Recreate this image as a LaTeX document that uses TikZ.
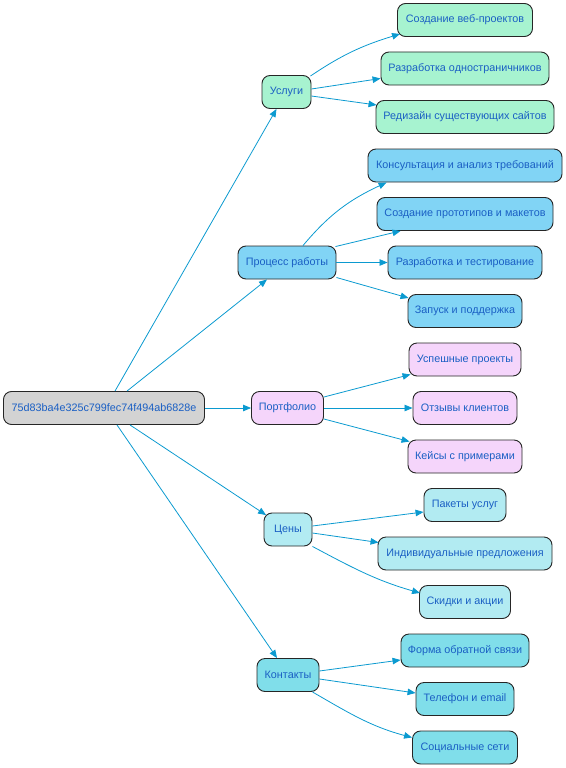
\documentclass[tikz,border=0pt]{standalone}
\usepackage{fontspec}
\setmainfont{Liberation Sans}
\usetikzlibrary{arrows.meta}
\definecolor{txt}{HTML}{1A5FC4}
\definecolor{edge}{HTML}{0B9AD0}
\definecolor{rootc}{HTML}{D3D3D3}
\definecolor{uslc}{HTML}{A7F3D0}
\definecolor{procc}{HTML}{81D4F5}
\definecolor{portc}{HTML}{F5D5FB}
\definecolor{cenc}{HTML}{B2EBF2}
\definecolor{konc}{HTML}{80DEEA}
\tikzset{
  box/.style={draw=black!85, line width=0.9pt, rounded corners=8pt, minimum height=33pt,
    inner sep=0pt, text=txt, font=\fontsize{10.8}{12}\selectfont},
  conn/.style={draw=edge, line width=0.8pt, -{Triangle[length=8pt,width=6.5pt]}},
}
\begin{document}
\begin{tikzpicture}[x=1pt,y=1pt]
\useasboundingbox (0,0) rectangle (565,-768);
% root
\node[box, fill=rootc, minimum width=201pt] (root) at (104,-408) {75d83ba4e325c799fec74f494ab6828e};
% middle
\node[box, fill=uslc, minimum width=49pt] (usl) at (286.5,-92) {Услуги};
\node[box, fill=procc, minimum width=98pt] (proc) at (287,-262.5) {Процесс работы};
\node[box, fill=portc, minimum width=72pt] (port) at (287.5,-408) {Портфолио};
\node[box, fill=cenc, minimum width=48pt] (cen) at (288,-529.5) {Цены};
\node[box, fill=konc, minimum width=62pt] (kon) at (288,-675) {Контакты};
% right
\node[box, fill=uslc, minimum width=135pt] (sozd) at (465,-20) {Создание веб-проектов};
\node[box, fill=uslc, minimum width=168pt] (razr) at (465,-68.5) {Разработка одностраничников};
\node[box, fill=uslc, minimum width=178pt] (rediz) at (465,-117) {Редизайн существующих сайтов};
\node[box, fill=procc, minimum width=194pt] (kons) at (465,-165.5) {Консультация и анализ требований};
\node[box, fill=procc, minimum width=176pt] (proto) at (465,-214) {Создание прототипов и макетов};
\node[box, fill=procc, minimum width=154pt] (test) at (465,-262.5) {Разработка и тестирование};
\node[box, fill=procc, minimum width=114pt] (zap) at (465,-311) {Запуск и поддержка};
\node[box, fill=portc, minimum width=112pt] (usp) at (465,-359.5) {Успешные проекты};
\node[box, fill=portc, minimum width=104pt] (otz) at (465,-408) {Отзывы клиентов};
\node[box, fill=portc, minimum width=114pt] (keis) at (465,-456.5) {Кейсы с примерами};
\node[box, fill=cenc, minimum width=82pt] (pak) at (465,-505) {Пакеты услуг};
\node[box, fill=cenc, minimum width=174pt] (ind) at (465,-553.5) {Индивидуальные предложения};
\node[box, fill=cenc, minimum width=91pt] (skid) at (465,-602) {Скидки и акции};
\node[box, fill=konc, minimum width=128pt] (forma) at (465,-650.5) {Форма обратной связи};
\node[box, fill=konc, minimum width=98pt] (tel) at (465,-699) {Телефон и email};
\node[box, fill=konc, minimum width=105pt] (soc) at (465,-747.5) {Социальные сети};
% root edges
\draw[conn] ([xshift=11pt]root.north) -- ([xshift=-10pt]usl.south);
\draw[conn] ([xshift=23pt]root.north) -- ([xshift=-20pt]proc.south);
\draw[conn] (root.east) -- (port.west);
\draw[conn] ([xshift=26pt]root.south) -- ([shift={(2.5pt,-2.5pt)}]cen.north west);
\draw[conn] ([xshift=13pt]root.south) -- ([xshift=-11pt]kon.north);
% usl
\draw[conn] ([shift={(-1pt,-1pt)}]usl.north east) to[out=34,in=197] ([shift={(3pt,3pt)}]sozd.south west);
\draw[conn] ([yshift=3pt]usl.east) -- ([yshift=-10pt]razr.west);
\draw[conn] ([yshift=-4pt]usl.east) -- ([shift={(1pt,12pt)}]rediz.west);
% proc
\draw[conn] ([xshift=16pt]proc.north) to[out=50,in=205] ([xshift=19pt]kons.south west);
\draw[conn] ([shift={(-1pt,-1pt)}]proc.north east) -- ([xshift=24pt]proto.south west);
\draw[conn] (proc.east) -- (test.west);
\draw[conn] ([yshift=-15pt]proc.east) -- ([shift={(1pt,13pt)}]zap.west);
% port
\draw[conn] ([yshift=11pt]port.east) -- ([shift={(2pt,2pt)}]usp.south west);
\draw[conn] (port.east) -- (otz.west);
\draw[conn] ([yshift=-11pt]port.east) -- ([shift={(2pt,-2pt)}]keis.north west);
% cen
\draw[conn] ([yshift=3.5pt]cen.east) -- ([yshift=-7pt]pak.west);
\draw[conn] ([yshift=-3.5pt]cen.east) -- ([shift={(1pt,11pt)}]ind.west);
\draw[conn] (cen.south east) to[out=-28,in=164] ([shift={(1pt,9pt)}]skid.west);
% kon
\draw[conn] ([yshift=4pt]kon.east) -- ([yshift=-9.5pt]forma.west);
\draw[conn] ([yshift=-4pt]kon.east) -- ([yshift=6pt]tel.west);
\draw[conn] ([xshift=-7pt]kon.south east) to[out=-30,in=165] ([yshift=10pt]soc.west);
\end{tikzpicture}
\end{document}
